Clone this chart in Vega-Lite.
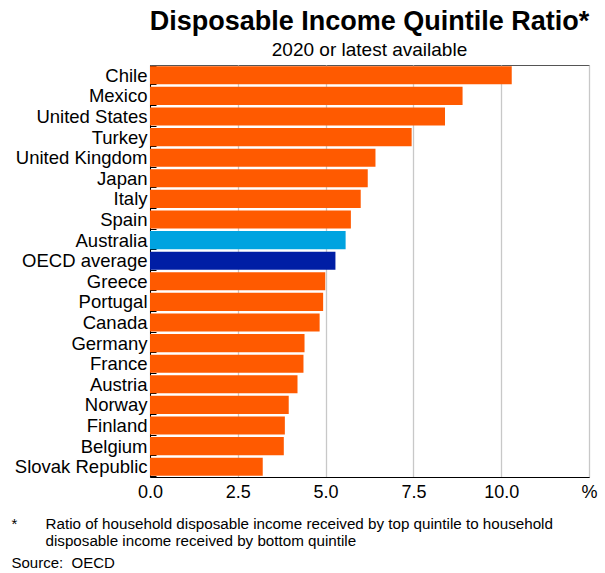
{
  "$schema": "https://vega.github.io/schema/vega-lite/v6.json",
  "width": 439,
  "height": 412,
  "autosize": {"type": "none"},
  "padding": {"left": 150, "top": 65, "right": 16, "bottom": 96},
  "background": "white",
  "title": {
    "text": "Disposable Income Quintile Ratio*",
    "subtitle": "2020 or latest available",
    "anchor": "middle",
    "frame": "group",
    "fontSize": 27,
    "fontWeight": "bold",
    "color": "#000000",
    "subtitleFontSize": 19,
    "subtitleColor": "#000000",
    "subtitlePadding": 5,
    "offset": -5
  },
  "data": {
    "values": [
      {"country": "Chile", "ratio": 10.3, "group": "Other"},
      {"country": "Mexico", "ratio": 8.9, "group": "Other"},
      {"country": "United States", "ratio": 8.4, "group": "Other"},
      {"country": "Turkey", "ratio": 7.45, "group": "Other"},
      {"country": "United Kingdom", "ratio": 6.42, "group": "Other"},
      {"country": "Japan", "ratio": 6.2, "group": "Other"},
      {"country": "Italy", "ratio": 6.0, "group": "Other"},
      {"country": "Spain", "ratio": 5.72, "group": "Other"},
      {"country": "Australia", "ratio": 5.57, "group": "Australia"},
      {"country": "OECD average", "ratio": 5.28, "group": "OECD"},
      {"country": "Greece", "ratio": 4.99, "group": "Other"},
      {"country": "Portugal", "ratio": 4.93, "group": "Other"},
      {"country": "Canada", "ratio": 4.83, "group": "Other"},
      {"country": "Germany", "ratio": 4.4, "group": "Other"},
      {"country": "France", "ratio": 4.37, "group": "Other"},
      {"country": "Austria", "ratio": 4.2, "group": "Other"},
      {"country": "Norway", "ratio": 3.95, "group": "Other"},
      {"country": "Finland", "ratio": 3.84, "group": "Other"},
      {"country": "Belgium", "ratio": 3.81, "group": "Other"},
      {"country": "Slovak Republic", "ratio": 3.21, "group": "Other"}
    ]
  },
  "mark": {"type": "bar"},
  "encoding": {
    "y": {
      "field": "country",
      "type": "nominal",
      "sort": null,
      "scale": {"paddingInner": 0.12, "paddingOuter": 0.06},
      "axis": {
        "title": ["*", "Source:\u00a0\u00a0OECD"],
        "titleAngle": 0,
        "titleX": -139,
        "titleY": 463,
        "titleAlign": "left",
        "titleBaseline": "alphabetic",
        "titleFontSize": 15,
        "titleFontWeight": "normal",
        "titleLineHeight": 39,
        "titleColor": "#000000",
        "labelFontSize": 18.5,
        "labelColor": "#000000",
        "labelPadding": 9,
        "labelLimit": 200,
        "tickBand": "extent",
        "tickSize": -6,
        "tickColor": "#000000",
        "domainColor": "#000000",
        "grid": false
      }
    },
    "x": {
      "field": "ratio",
      "type": "quantitative",
      "scale": {"domain": [0, 12.5], "nice": false},
      "axis": {
        "values": [0, 2.5, 5, 7.5, 10, 12.5],
        "labelExpr": "datum.value == 12.5 ? '%' : format(datum.value, '.1f')",
        "labelFlush": false,
        "labelFontSize": 18,
        "labelColor": "#000000",
        "labelPadding": 6,
        "ticks": false,
        "domainColor": "#000000",
        "grid": true,
        "gridColor": "#c8c8c8",
        "gridWidth": 1.3,
        "title": ["Ratio of household disposable income received by top quintile to household", "disposable income received by bottom quintile"],
        "titleX": -105,
        "titleY": 51,
        "titleAlign": "left",
        "titleAnchor": "start",
        "titleBaseline": "alphabetic",
        "titleFontSize": 15.2,
        "titleFontWeight": "normal",
        "titleLineHeight": 17,
        "titleColor": "#000000"
      }
    },
    "color": {
      "field": "group",
      "type": "nominal",
      "scale": {"domain": ["Other", "Australia", "OECD"], "range": ["#ff5a00", "#00a3e0", "#001ea5"]},
      "legend": null
    }
  },
  "config": {
    "font": "Liberation Sans",
    "view": {"stroke": "#555555", "strokeWidth": 1}
  }
}
